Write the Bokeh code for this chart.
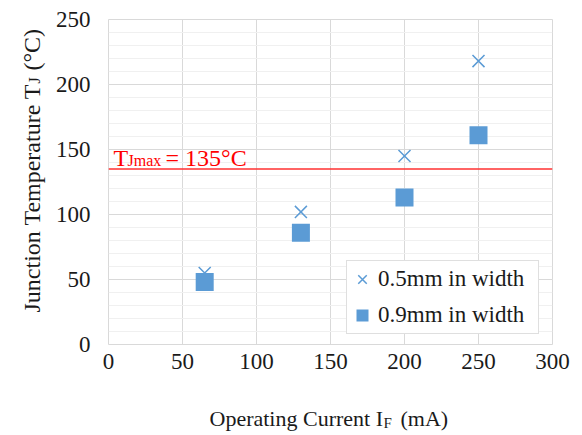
import math
from bokeh.plotting import figure
from bokeh.layouts import row, column
from bokeh.models import (Legend, LegendItem, Span, Label, Range1d, FixedTicker)
from bokeh.embed import file_html
from bokeh.resources import INLINE

# ---- data ----
current_ma = [65, 130, 200, 250]
tj_05mm = [55, 102, 145, 218]
tj_09mm = [48, 86, 113, 161]
tj_max = 135
x_ticks = [0, 50, 100, 150, 200, 250, 300]
y_ticks = [0, 50, 100, 150, 200, 250]
y_minor = list(range(0, 251, 10))
series_names = ["0.5mm in width", "0.9mm in width"]

FONT = "Liberation Serif"
BLUE = "#5B9BD5"
GRID = "#d9d9d9"
TXT = "#1a1a1a"
RED = "#FF0000"

XR = Range1d(0, 300)
YR = Range1d(0, 250)

# ---- main chart ----
p = figure(width=532, height=384, x_range=XR, y_range=YR,
           output_backend="svg", toolbar_location=None,
           min_border_left=58, min_border_right=30, min_border_top=19, min_border_bottom=40)
p.background_fill_color = "white"
p.border_fill_color = "white"
p.outline_line_color = GRID
p.outline_line_width = 1

p.xaxis.ticker = FixedTicker(ticks=x_ticks)
p.yaxis.ticker = FixedTicker(ticks=y_ticks, minor_ticks=y_minor)
for ax in (p.xaxis[0], p.yaxis[0]):
    ax.axis_line_color = None
    ax.major_tick_line_color = None
    ax.minor_tick_line_color = None
    ax.major_tick_out = 0
    ax.major_tick_in = 0
    ax.major_label_text_font = FONT
    ax.major_label_text_font_size = "23px"
    ax.major_label_text_color = TXT
p.xaxis.major_label_standoff = 9
p.yaxis.major_label_standoff = 14

p.xgrid.grid_line_color = GRID
p.ygrid.grid_line_color = GRID
p.ygrid.minor_grid_line_color = "#f0f0f0"

span = Span(location=tj_max, dimension="width", line_color="#FF3030", line_width=1.5)
p.add_layout(span)

r1 = p.scatter(current_ma, tj_05mm, marker="x", size=17, line_color=BLUE, line_width=1.5)
r2 = p.scatter(current_ma, tj_09mm, marker="square", size=18, fill_color=BLUE, line_color=None)

legend = Legend(items=[LegendItem(label=series_names[0], renderers=[r1]),
                       LegendItem(label=series_names[1], renderers=[r2])],
                location=(238, 10))
legend.label_text_font = FONT
legend.label_text_font_size = "23px"
legend.label_text_color = TXT
legend.border_line_color = "#bfbfbf"
legend.border_line_width = 1
legend.background_fill_color = "white"
legend.background_fill_alpha = 1
legend.padding = 0
legend.spacing = 0
legend.margin = 0
legend.glyph_width = 30
legend.glyph_height = 36
legend.label_height = 36
legend.label_width = 160
legend.label_standoff = 1
p.add_layout(legend)


def lab(fig, text, x, y, xo, yo, size, color=TXT, angle=0.0):
    fig.add_layout(Label(x=x, y=y, x_offset=xo, y_offset=yo, text=text, angle=angle,
                         text_font=FONT, text_font_size=size, text_color=color,
                         text_align="left", text_baseline="alphabetic"))


# T_Jmax = 135 °C annotation
lab(p, "T", 0, tj_max, 5, 11, "24px", RED)
lab(p, "Jmax", 0, tj_max, 19, 9, "16px", RED)
lab(p, "= 135°C", 0, tj_max, 57, 11, "24px", RED)


def blank(w, h, xr, yr, **borders):
    f = figure(width=w, height=h, x_range=xr, y_range=yr,
               output_backend="svg", toolbar_location=None,
               x_axis_location=None, y_axis_location=None, **borders)
    f.outline_line_color = None
    f.grid.visible = False
    f.background_fill_color = "white"
    f.border_fill_color = "white"
    return f


# ---- y axis title: Junction Temperature T_J (°C) ----
fy = blank(50, 384, Range1d(0, 50), YR,
           min_border_left=0, min_border_right=0, min_border_top=19, min_border_bottom=40)
A = math.pi / 2
lab(fy, "Junction Temperature T", 31, 0, 0, 32, "24px", angle=A)
lab(fy, "J", 34, 0, 0, 261, "16px", angle=A)
lab(fy, "(°C)", 31, 0, 0, 274, "24px", angle=A)

# ---- x axis title: Operating Current I_F (mA) ----
fx = blank(582, 51, XR, Range1d(0, 51),
           min_border_left=108, min_border_right=30, min_border_top=0, min_border_bottom=0)
lab(fx, "Operating Current I", 0, 17, 101, 0, "22px")
lab(fx, "F", 0, 13, 275, 0, "15px")
lab(fx, "(mA)", 0, 17, 292, 0, "22px")

layout = column(row(fy, p, spacing=0), fx, spacing=0)
open("out.html", "w").write(file_html(layout, INLINE))
